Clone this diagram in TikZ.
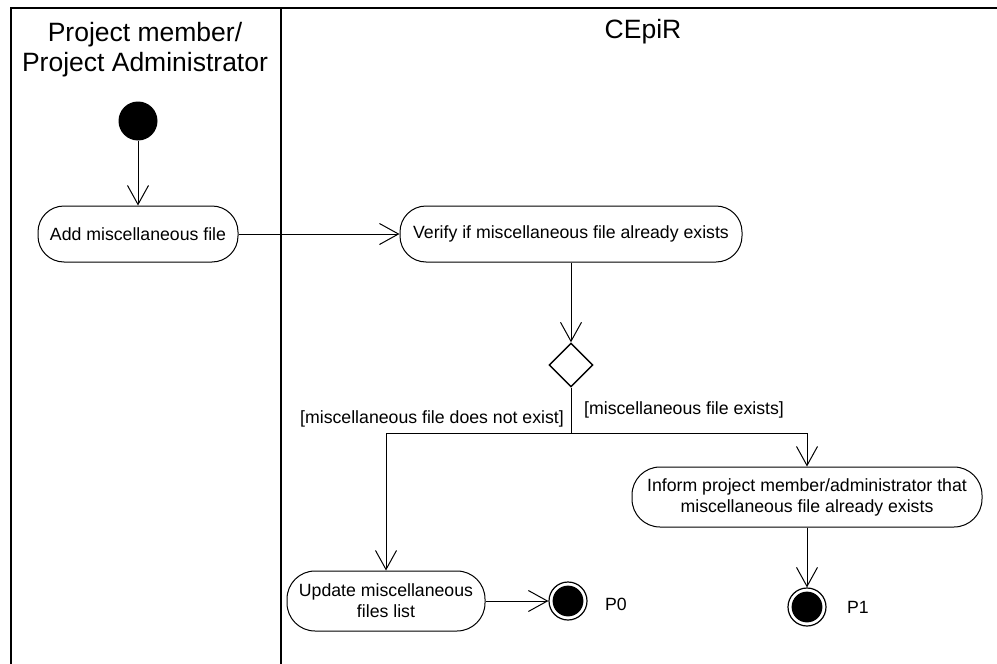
\documentclass[tikz,border=0pt]{standalone}
\usepackage{fontspec}
\setmainfont{Liberation Sans}
\usepackage{tikz}
\usetikzlibrary{arrows.meta,shapes.geometric}

\begin{document}
\begin{tikzpicture}[x=0.5pt,y=-0.5pt,
  every node/.style={font=\fontsize{8.85}{10.5}\selectfont},
  lanetitle/.style={font=\fontsize{13.25}{15}\selectfont,align=center,inner sep=0pt},
  lane/.style={line width=1pt,color=black},
  action/.style={rectangle,rounded corners=13pt,draw,line width=0.5pt,minimum height=28pt,align=center,inner sep=2pt},
  startdot/.style={circle,fill=black,minimum size=19.5pt,inner sep=0pt},
  enddot/.style={circle,draw,line width=0.6pt,minimum size=19pt,inner sep=0pt,
    path picture={\fill (path picture bounding box.center) circle (7.7pt);}},
  decision/.style={diamond,draw,line width=0.7pt,minimum width=22pt,minimum height=22pt,inner sep=0pt},
  arrow/.style={-{Straight Barb[length=9.5pt,width=10.5pt]},line width=0.5pt}
]
\useasboundingbox (0,0) rectangle (997,664);
\draw[lane] (11,664) -- (11,8) -- (997,8);
\draw[lane] (281,8) -- (281,664);
\node[lanetitle] (lanePM) at (145,50) {Project member/\\Project Administrator};
\node[lanetitle] (laneCE) at (643,32) {CEpiR};

\node[startdot] (start) at (138,121) {};
\node[action,minimum width=100pt] (add) at (138,234) {Add miscellaneous file};
\node[action,minimum width=171pt] (verify) at (571,234) {Verify if miscellaneous file already exists};
\node[decision] (dec) at (571,365) {};
\coordinate (fork) at (571,433);
\node[action,minimum width=99pt,minimum height=30pt,rounded corners=14pt] (update) at (386,601) {Update miscellaneous\\files list};
\node[action,minimum width=175pt,minimum height=30pt,rounded corners=14pt] (inform) at (807,497) {Inform project member/administrator that\\miscellaneous file already exists};
\node[enddot] (p0) at (568,601) {};
\node[enddot] (p1) at (807,607) {};
\node (p0lbl) at (616,604) {P0};
\node (p1lbl) at (858,607) {P1};

\draw[arrow] (start) -- (add);
\draw[arrow] (add) -- (verify);
\draw[arrow] (verify) -- (dec);
\draw[line width=0.5pt] (dec) -- node[pos=0.7,anchor=east]{[miscellaneous file does not exist]}
  node[pos=0.5,anchor=west,xshift=3pt]{[miscellaneous file exists]} (fork);
\draw[arrow] (fork) -| (update);
\draw[arrow] (fork) -| (inform);
\draw[arrow] (update) -- (p0);
\draw[arrow] (inform) -- (p1);
\end{tikzpicture}
\end{document}
